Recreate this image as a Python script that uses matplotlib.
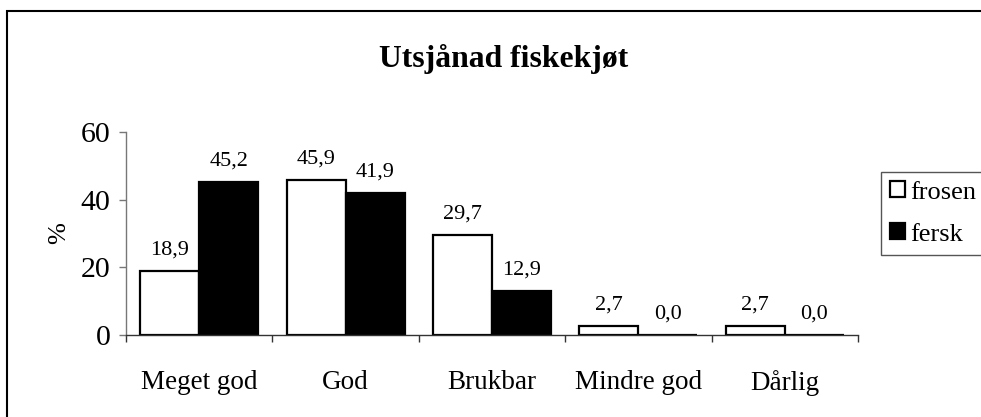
import numpy as np
import matplotlib.pyplot as plt
from matplotlib.patches import Patch, Rectangle

plt.rcParams['font.family'] = ['Liberation Serif', 'DejaVu Serif']

kategorier = ['Meget god', 'God', 'Brukbar', 'Mindre god', 'Dårlig']
frosen = [18.9, 45.9, 29.7, 2.7, 2.7]
fersk = [45.2, 41.9, 12.9, 0.0, 0.0]
y_ticks = [0, 20, 40, 60]

fig = plt.figure(figsize=(9.81, 4.17), dpi=100)
ax = fig.add_axes([0.1284, 0.1966, 0.7462, 0.4869])

# ramme rundt hele figuren
fig.patches.append(Rectangle((7 / 981, -0.1), 1.2, 0.1 + (417 - 11) / 417,
                             transform=fig.transFigure, fill=False,
                             edgecolor='black', linewidth=1.5))

x = np.arange(len(kategorier))
b = 0.403
ax.bar(x - b / 2, frosen, b, color='white', edgecolor='black', linewidth=1.6)
ax.bar(x + b / 2, fersk, b, color='black', edgecolor='black', linewidth=1.6)

for xi, v in zip(x - b / 2, frosen):
    ax.annotate(f'{v:.1f}'.replace('.', ','), (xi, v), xytext=(0, 15),
                textcoords='offset points', ha='center', va='center', fontsize=16)
for xi, v in zip(x + b / 2, fersk):
    ax.annotate(f'{v:.1f}'.replace('.', ','), (xi, v), xytext=(0, 15),
                textcoords='offset points', ha='center', va='center', fontsize=16)

ax.set_xlim(-0.5, len(kategorier) - 0.5)
ax.set_ylim(0, 60)
ax.set_yticks(y_ticks)
ax.tick_params(axis='y', labelsize=21.5, length=5, width=1, color='#777777', pad=6)
ax.set_xticks(np.arange(len(kategorier) + 1) - 0.5)
ax.set_xticklabels([])
ax.set_xticks(x, minor=True)
ax.set_xticklabels(kategorier, minor=True, fontsize=19.5)
ax.tick_params(axis='x', which='minor', length=0, pad=25)
ax.tick_params(axis='x', which='major', length=5, width=1, color='#333333')

for s in ['top', 'right']:
    ax.spines[s].set_visible(False)
ax.spines['left'].set_color('#777777')
ax.spines['bottom'].set_color('#333333')
ax.spines['left'].set_linewidth(1)
ax.spines['bottom'].set_linewidth(1)

ax.set_ylabel('%', fontsize=19, labelpad=8)
fig.text(0.513, (417 - 67) / 417, 'Utsjånad fiskekjøt', ha='center',
         va='baseline', fontsize=22.8, fontweight='bold')

handles = [Patch(facecolor='white', edgecolor='black', linewidth=1.6),
           Patch(facecolor='black', edgecolor='black', linewidth=1.6)]
fig.legend(handles, ['frosen', 'fersk'], loc='upper left',
           bbox_to_anchor=(881 / 981, (417 - 172) / 417), fontsize=19,
           frameon=True, fancybox=False, edgecolor='#555555', framealpha=1,
           handlelength=0.55, handleheight=0.55, handletextpad=0.2,
           borderpad=0.35, labelspacing=0.75, borderaxespad=0)

fig.savefig('out.png', dpi=100)
